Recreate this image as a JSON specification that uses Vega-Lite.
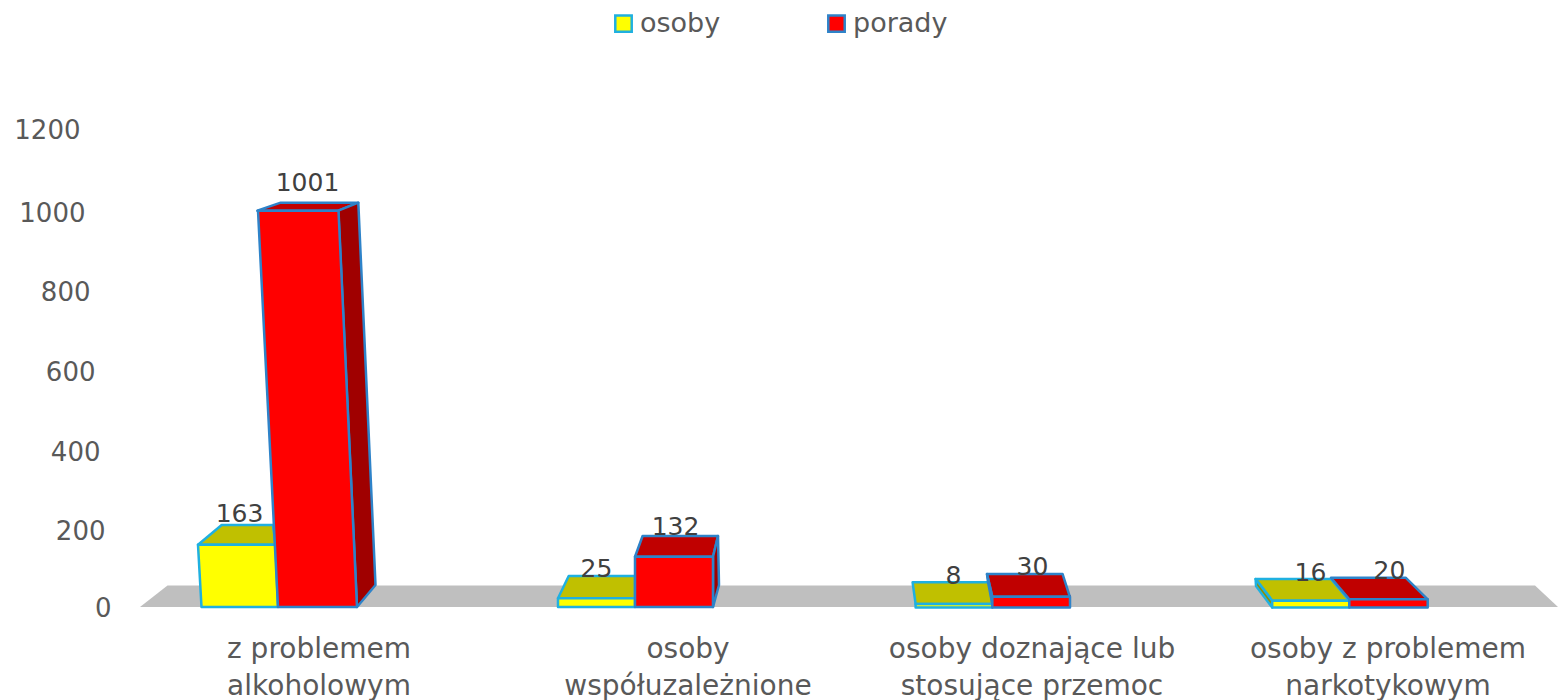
{"$schema":"https://vega.github.io/schema/vega-lite/v6.json","width":1428,"height":475,"autosize":{"type":"none"},"padding":{"left":99.5,"top":132,"right":30.5,"bottom":93},"background":"white","config":{"view":{"stroke":null},"font":"DejaVu Sans"},"data":{"values":[{"id":"a1","kategoria":"z problemem alkoholowym","seria":"osoby","wartosc":163},{"id":"a2","kategoria":"z problemem alkoholowym","seria":"porady","wartosc":1001},{"id":"b1","kategoria":"osoby współuzależnione","seria":"osoby","wartosc":25},{"id":"b2","kategoria":"osoby współuzależnione","seria":"porady","wartosc":132},{"id":"c1","kategoria":"osoby doznające lub stosujące przemoc","seria":"osoby","wartosc":8},{"id":"c2","kategoria":"osoby doznające lub stosujące przemoc","seria":"porady","wartosc":30},{"id":"d1","kategoria":"osoby z problemem narkotykowym","seria":"osoby","wartosc":16},{"id":"d2","kategoria":"osoby z problemem narkotykowym","seria":"porady","wartosc":20}]},"encoding":{"x":{"field":"kategoria","type":"nominal","sort":null,"scale":{"paddingInner":0.5574,"paddingOuter":0.2787},"title":null,"axis":{"domain":false,"ticks":false,"grid":false,"labelAngle":0,"labelFontSize":28,"labelColor":"#595959","labelPadding":28,"labelLimit":600,"labelOverlap":false,"labelBound":false,"labelFlush":false,"labelLineHeight":37,"labelExpr":"datum.label=='z problemem alkoholowym'?['z problemem','alkoholowym']:datum.label=='osoby współuzależnione'?['osoby','współuzależnione']:datum.label=='osoby doznające lub stosujące przemoc'?['osoby doznające lub','stosujące przemoc']:['osoby z problemem','narkotykowym']","labelOffset":{"condition":[{"test":"datum.value=='osoby współuzależnione'","value":53},{"test":"datum.value=='z problemem alkoholowym'","value":41},{"test":"datum.value=='osoby doznające lub stosujące przemoc'","value":40}],"value":39}}},"xOffset":{"field":"seria","type":"nominal","scale":{"paddingInner":0,"paddingOuter":0}},"y":{"field":"wartosc","type":"quantitative","scale":{"domain":[0,1200],"nice":false},"title":null,"axis":{"values":[0,200,400,600,800,1000,1200],"format":"d","domain":false,"ticks":false,"grid":false,"labelFontSize":26,"labelColor":"#595959","labelAlign":"right","labelFlush":false,"labelBound":false,"labelPadding":{"condition":[{"test":"datum.value==1200","value":19.5},{"test":"datum.value==1000","value":14.5},{"test":"datum.value==800","value":9.5},{"test":"datum.value==600","value":4.5},{"test":"datum.value==400","value":-0.5},{"test":"datum.value==200","value":-5.5}],"value":-11.5},"labelOffset":{"condition":[{"test":"datum.value==1200","value":-2},{"test":"datum.value==1000","value":2},{"test":"datum.value==800","value":2.5},{"test":"datum.value==600","value":3},{"test":"datum.value==400","value":4},{"test":"datum.value==200","value":4}],"value":1}}}},"layer":[{"data":{"values":[{"poziom":0}]},"mark":{"type":"point","filled":true,"opacity":1,"size":4,"color":"#bfbfbf","shape":"M-138,0L-110.5,-21.5L1257,-21.5L1280,0Z"},"encoding":{"xOffset":null,"x":{"datum":"z problemem alkoholowym"},"y":{"field":"poziom","type":"quantitative"}}},{"mark":{"type":"bar","width":{"band":0.9}},"encoding":{"fill":{"field":"seria","type":"nominal","scale":{"domain":["osoby","porady"],"range":["#ffff00","#ff0000"]},"legend":{"title":null,"orient":"none","legendX":510.5,"legendY":-122,"columns":2,"columnPadding":102,"symbolType":"square","symbolSize":270,"labelFontSize":27,"labelColor":"#595959","labelOffset":3,"padding":0,"encode":{"symbols":{"update":{"stroke":{"signal":"datum.value=='osoby'?'#1fb0e0':'#2e83c9'"},"strokeWidth":{"value":2.5}}}}}}}},{"mark":{"type":"point","filled":true,"opacity":1,"size":4,"strokeWidth":2.5,"strokeJoin":"round"},"encoding":{"shape":{"field":"id","type":"nominal","legend":null,"scale":{"domain":["a1","a2","b1","b2","c1","c2","d1","d2"],"range":["M-40.5,2.2L-16.8,-17.5L34.5,-17.5L37,2.2Z","M-60.2,-0.1L-36.8,-8.1L40.8,-8.1L20.8,-0.1Z","M-37.5,1.2L-26.8,-21.1L39.5,-21.1L39.5,1.2Z","M-39.5,2L-31.9,-18.75L43.5,-18.75L38.5,2Z","M-39.9,-21.5L36.5,-21.5L39.8,0.2L-36.9,0.2Z","M-44.5,-21.1L31.1,-21.1L38.3,1.6L-39.2,1.6Z","M-53.9,-21.7L21.5,-21.7L39.8,0L-37.3,0Z","M-57.5,-21.4L17.1,-21.4L39.2,0.2L-39.2,0.2Z"]}},"fill":{"field":"seria","type":"nominal","legend":null,"scale":{"domain":["osoby","porady"],"range":["#c0c000","#c00000"]}},"stroke":{"field":"seria","type":"nominal","legend":null,"scale":{"domain":["osoby","porady"],"range":["#1fb0e0","#2e83c9"]}}}},{"transform":[{"filter":"indexof(['a2','b2','c2','d1'],datum.id)>=0"}],"mark":{"type":"point","filled":true,"opacity":1,"size":4,"strokeWidth":2.5,"strokeJoin":"round"},"encoding":{"shape":{"field":"id","type":"nominal","legend":null,"scale":{"domain":["a2","b2","c2","d1"],"range":["M20.8,-0.1L40.8,-8.1L58,374.2L39.5,396.2Z","M38.5,2L43.5,-18.75L44.5,30.25L38.5,52.25Z","M-44.5,-21.1L-39.2,1.6L-39.2,8.9L-43.5,-13Z","M-53.9,-21.7L-37.3,0L-37.3,6.8L-53.5,-14.7Z"]}},"fill":{"field":"seria","type":"nominal","legend":null,"scale":{"domain":["osoby","porady"],"range":["#8f8f00","#a00000"]}},"stroke":{"field":"seria","type":"nominal","legend":null,"scale":{"domain":["osoby","porady"],"range":["#1fb0e0","#2e83c9"]}}}},{"mark":{"type":"point","filled":true,"opacity":1,"size":4,"strokeWidth":2.5,"strokeJoin":"round"},"encoding":{"shape":{"field":"id","type":"nominal","legend":null,"scale":{"domain":["a1","a2","b1","b2","c1","c2","d1","d2"],"range":["M-40.5,2.2L37,2.2L39.5,64.5L-37,64.5Z","M-59.5,0L21,0L39.5,396.2L-39.5,396.2Z","M-37.5,1.2L39.5,1.2L39.5,9.9L-37.5,9.9Z","M-39.5,2L38.5,2L38.5,52.25L-39.5,52.25Z","M-36.9,0.2L39.8,0.2L39.8,3.7L-36.9,3.7Z","M-39.2,1.6L38.5,1.6L38.5,12.4L-39.2,12.4Z","M-37.3,0L39.8,0L39.8,6.8L-37.3,6.8Z","M-39.2,0.2L39.2,0.2L39.2,8.4L-39.2,8.4Z"]}},"fill":{"field":"seria","type":"nominal","legend":null,"scale":{"domain":["osoby","porady"],"range":["#ffff00","#ff0000"]}},"stroke":{"field":"seria","type":"nominal","legend":null,"scale":{"domain":["osoby","porady"],"range":["#1fb0e0","#2e83c9"]}}}},{"mark":{"type":"text","fontSize":25,"color":"#404040","dy":-28,"dx":{"expr":"datum.wartosc===1001?-10:1"}},"encoding":{"text":{"field":"wartosc","type":"quantitative"}}}],"resolve":{"scale":{"fill":"independent","shape":"independent","stroke":"independent"}}}
